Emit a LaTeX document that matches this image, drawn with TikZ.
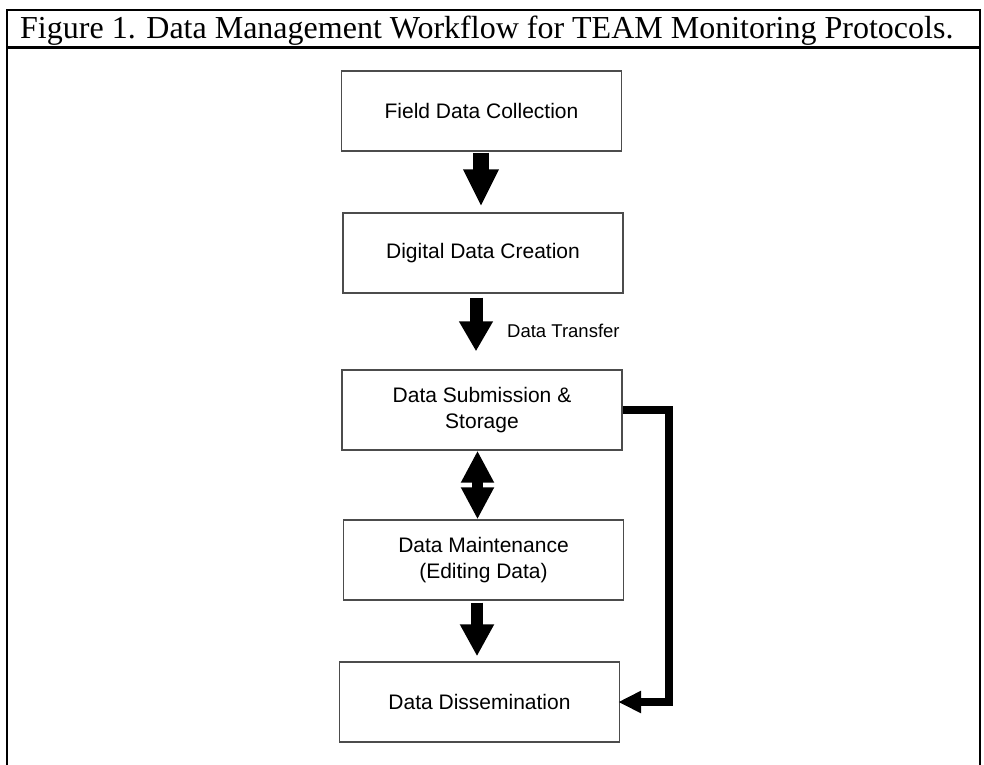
\documentclass[tikz,border=0pt]{standalone}
\usepackage{fontspec}
\setmainfont{Liberation Serif}
\newfontfamily\boxfont{Liberation Sans}
\usetikzlibrary{arrows.meta,calc}

\tikzset{
  flowbox/.style={draw=black!70, line width=1.4pt, fill=white,
    minimum width=280pt, minimum height=80pt, inner sep=0pt,
    align=center, font=\boxfont\fontsize{21}{26}\selectfont},
  blockarrow/.style={line width=#1, line cap=butt},
  framerule/.style={line width=2.5pt, black},
  smalllabel/.style={inner sep=0pt, anchor=base west,
    font=\boxfont\fontsize{18.5}{22}\selectfont}
}

\begin{document}
\begin{tikzpicture}[x=1pt,y=-1pt]
  % page area
  \useasboundingbox[fill=white] (0,0) rectangle (984,764);

  % caption frame
  \draw[framerule] (7,10) rectangle (980,768);
  \draw[line width=2.2pt] (7,47.5) -- (980,47.5);
  \node[inner sep=0pt, anchor=base west] (title) at (20,38)
    {\fontsize{32}{34}\selectfont Figure 1. Data Management Workflow for TEAM Monitoring Protocols.};

  % workflow steps
  \node[flowbox] (b1) at (481.5,111) {Field Data Collection};
  \node[flowbox] (b2) at (483,253)   {Digital Data Creation};
  \node[flowbox] (b3) at (482,410)   {Data Submission \&\\Storage};
  \node[flowbox] (b4) at (483.5,560) {Data Maintenance\\(Editing Data)};
  \node[flowbox] (b5) at (479.5,702) {Data Dissemination};

  % block arrows between steps
  \draw[blockarrow=15.5pt, -{Triangle[length=37pt,width=33pt]},
        shorten <=1pt, shorten >=6pt]
    ([xshift=-0.5pt]b1.south) -- ([xshift=-0.5pt]b1.south |- b2.north);

  \draw[blockarrow=13pt, -{Triangle[length=30pt,width=32pt]},
        shorten <=4pt, shorten >=18pt]
    ([xshift=-7pt]b2.south) -- ([xshift=-7pt]b2.south |- b3.north);
  \node[smalllabel] (lbl) at (507,337) {Data Transfer};

  \draw[blockarrow=11pt, {Triangle[length=32pt,width=31pt]}-{Triangle[length=32pt,width=31pt]}]
    ([xshift=-4.5pt]b3.south) -- ([xshift=-4.5pt]b3.south |- b4.north);

  \draw[blockarrow=12pt, -{Triangle[length=32pt,width=32pt]},
        shorten <=2pt, shorten >=5pt]
    ([xshift=-6.5pt]b4.south) -- ([xshift=-6.5pt]b4.south |- b5.north);

  % bypass from storage straight to dissemination
  \draw[blockarrow=8pt, line join=miter, -{Triangle[length=23pt,width=21pt]},
        shorten >=-2pt]
    ([yshift=0.5pt]b3.east) -- ++(46,0) |- (b5.east);
\end{tikzpicture}
\end{document}
